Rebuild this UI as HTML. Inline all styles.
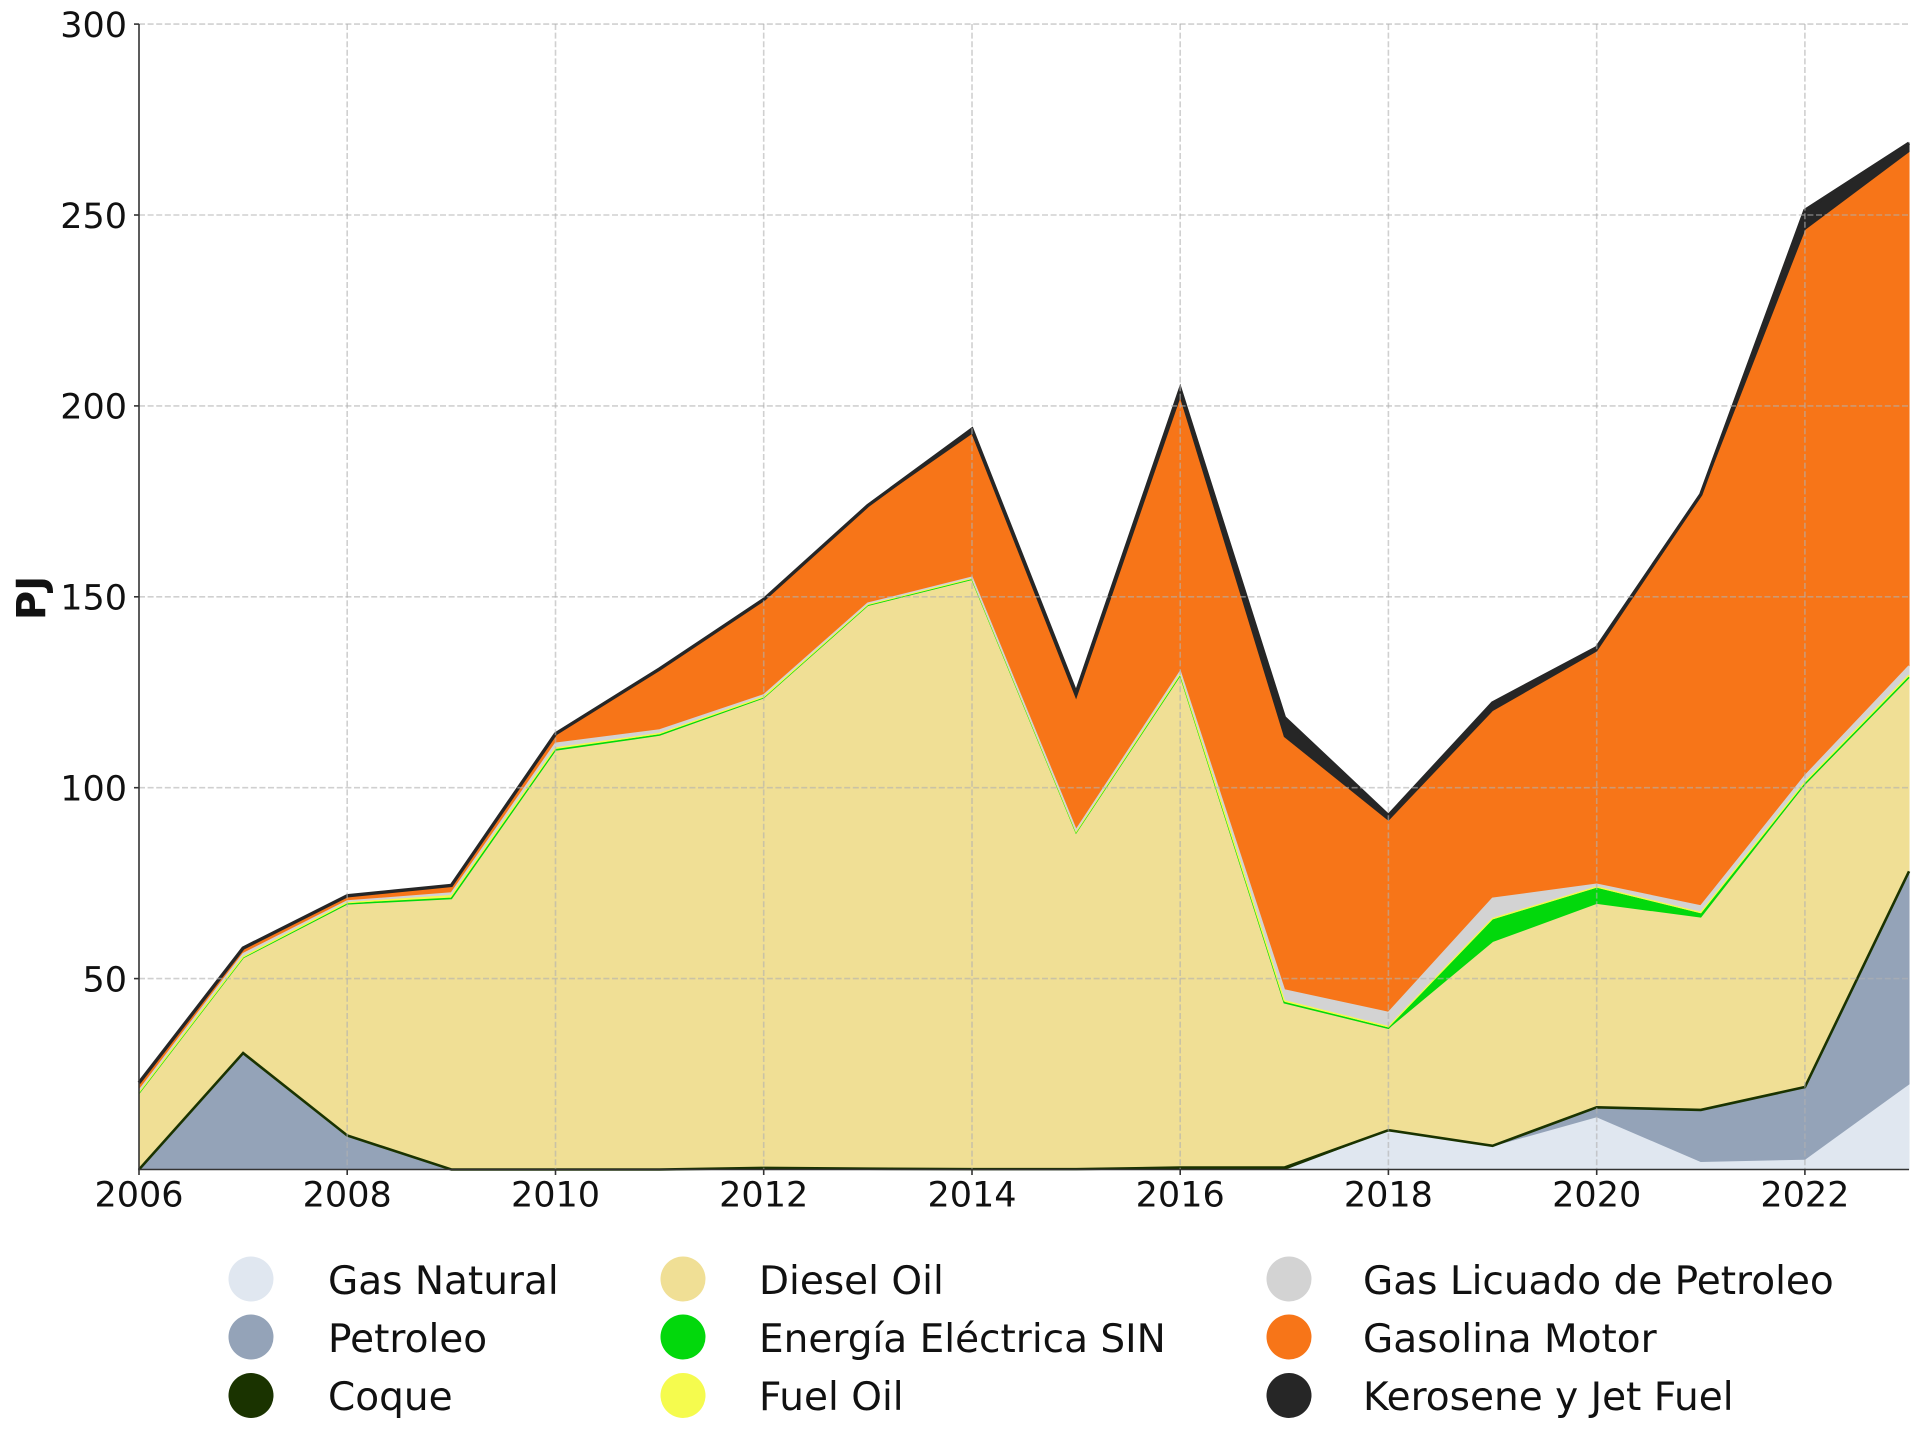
<!DOCTYPE html>
<html>
<head>
<meta charset="utf-8">
<style>
html,body{margin:0;padding:0;background:#fff;}
svg{display:block;}
text{font-family:"DejaVu Sans","Liberation Sans",sans-serif;fill:#111;}
</style>
</head>
<body>
<svg width="1920" height="1445" viewBox="0 0 1920 1445" xmlns="http://www.w3.org/2000/svg">
<rect x="0" y="0" width="1920" height="1445" fill="#fff"/>

<g transform="translate(139 1169.5) scale(104.12 -3.818)" stroke-linejoin="miter">
  <!-- Gas Natural -->
  <polygon fill="#e0e7f0" stroke="#e0e7f0" stroke-width="1" vector-effect="non-scaling-stroke"
    points="0,0 11,0 12,10.3 13,6.2 14,13.8 15,2.1 16,2.7 17,22.4 17,0 0,0"/>
  <!-- Petroleo -->
  <polygon fill="#94a3b8" stroke="#94a3b8" stroke-width="1" vector-effect="non-scaling-stroke"
    points="0,0 1,30.5 2,8.9 3,0 11,0 12,10.3 13,6.2 14,16.3 15,15.6 16,21.6 17,78.1 17,22.4 16,2.7 15,2.1 14,13.8 13,6.2 12,10.3 11,0 0,0"/>
  <!-- Coque -->
  <polygon fill="#1a3300" stroke="#1a3300" stroke-width="1" vector-effect="non-scaling-stroke"
    points="0,0 1,30.5 2,8.9 3,0 4,0 5,0 6,0.4 7,0.2 8,0.1 9,0.1 10,0.5 11,0.5 12,10.3 13,6.2 14,16.3 15,15.6 16,21.6 17,78.1 17,78.1 16,21.6 15,15.6 14,16.3 13,6.2 12,10.3 11,0 3,0 2,8.9 1,30.5 0,0"/>
  <!-- Diesel Oil -->
  <polygon fill="#f0df95" stroke="#f0df95" stroke-width="1" vector-effect="non-scaling-stroke"
    points="0,20 1,55.5 2,69.6 3,71 4,109.9 5,113.8 6,123.6 7,147.8 8,154.6 9,88.3 10,129.5 11,43.7 12,37 13,59.7 14,69.7 15,66.1 16,101 17,128.9 17,78.1 16,21.6 15,15.6 14,16.3 13,6.2 12,10.3 11,0.5 10,0.5 9,0.1 8,0.1 7,0.2 6,0.4 5,0 4,0 3,0 2,8.9 1,30.5 0,0"/>
  <!-- Energia Electrica -->
  <polygon fill="#02d80c" stroke="#02d80c" stroke-width="1" vector-effect="non-scaling-stroke"
    points="0,20 1,55.5 2,69.6 3,71 4,109.9 5,113.8 6,123.6 7,147.8 8,154.6 9,88.3 10,129.5 11,43.7 12,37 13,65.3 14,73.6 15,66.9 16,101 17,128.9 17,128.9 16,101 15,66.1 14,69.7 13,59.7 12,37 11,43.7 10,129.5 9,88.3 8,154.6 7,147.8 6,123.6 5,113.8 4,109.9 3,71 2,69.6 1,55.5 0,20"/>
  <!-- Fuel Oil -->
  <polygon fill="#f5fb4e" stroke="#f5fb4e" stroke-width="1" vector-effect="non-scaling-stroke"
    points="0,20.2 1,55.7 2,69.9 3,71.7 4,110.4 5,114.2 6,123.8 7,148 8,154.8 9,88.5 10,129.8 11,44.2 12,37.4 13,65.7 14,74 15,67.3 16,101.5 17,129.5 17,128.9 16,101 15,66.9 14,73.6 13,65.3 12,37 11,43.7 10,129.5 9,88.3 8,154.6 7,147.8 6,123.6 5,113.8 4,109.9 3,71 2,69.6 1,55.5 0,20"/>
  <!-- GLP -->
  <polygon fill="#d3d3d3" stroke="#d3d3d3" stroke-width="1" vector-effect="non-scaling-stroke"
    points="0,20.7 1,56.5 2,70.3 3,72.4 4,111.6 5,115.1 6,124.3 7,148.3 8,155.1 9,88.9 10,130.4 11,47 12,41.1 13,71 14,74.7 15,69 16,103.1 17,131.9 17,129.5 16,101.5 15,67.3 14,74 13,65.7 12,37.4 11,44.2 10,129.8 9,88.5 8,154.8 7,148 6,123.8 5,114.2 4,110.4 3,71.7 2,69.9 1,55.7 0,20.2"/>
  <!-- Gasolina Motor -->
  <polygon fill="#f77518" stroke="#f77518" stroke-width="1" vector-effect="non-scaling-stroke"
    points="0,22.5 1,57.9 2,71.6 3,74.3 4,114 5,131 6,149.2 7,173.8 8,192.8 9,123.5 10,202.4 11,113.4 12,91.5 13,120.2 14,135.8 15,176.4 16,246.2 17,266.6 17,131.9 16,103.1 15,69 14,74.7 13,71 12,41.1 11,47 10,130.4 9,88.9 8,155.1 7,148.3 6,124.3 5,115.1 4,111.6 3,72.4 2,70.3 1,56.5 0,20.7"/>
  <!-- Kerosene -->
  <polygon fill="#262626" stroke="#262626" stroke-width="1" vector-effect="non-scaling-stroke"
    points="0,22.7 1,58 2,71.7 3,74.4 4,114.1 5,131.1 6,149.3 7,173.9 8,193.9 9,124.8 10,204.4 11,118.4 12,92.7 13,122.2 14,136.7 15,176.8 16,251.2 17,268.8 17,266.6 16,246.2 15,176.4 14,135.8 13,120.2 12,91.5 11,113.4 10,202.4 9,123.5 8,192.8 7,173.8 6,149.2 5,131 4,114 3,74.3 2,71.6 1,57.9 0,22.5"/>

  <!-- edge lines -->
  <polyline fill="none" stroke="#1a3300" stroke-width="2.6" vector-effect="non-scaling-stroke"
    points="0,0 1,30.5 2,8.9 3,0 4,0 5,0 6,0.4 7,0.2 8,0.1 9,0.1 10,0.5 11,0.5 12,10.3 13,6.2 14,16.3 15,15.6 16,21.6 17,78.1"/>
  <polyline fill="none" stroke="#02d80c" stroke-width="1.6" vector-effect="non-scaling-stroke"
    points="0,20 1,55.5 2,69.6 3,71 4,109.9 5,113.8 6,123.6 7,147.8 8,154.6 9,88.3 10,129.5 11,43.7 12,37 13,65.3 14,73.6 15,66.9 16,101 17,128.9"/>
  <polyline fill="none" stroke="#f5fb4e" stroke-width="1.4" vector-effect="non-scaling-stroke"
    points="0,20.2 1,55.7 2,69.9 3,71.7 4,110.4 5,114.2 6,123.8 7,148 8,154.8 9,88.5 10,129.8 11,44.2 12,37.4 13,65.7 14,74 15,67.3 16,101.5 17,129.5"/>
  <polyline fill="none" stroke="#d3d3d3" stroke-width="1.6" vector-effect="non-scaling-stroke"
    points="0,20.7 1,56.5 2,70.3 3,72.4 4,111.6 5,115.1 6,124.3 7,148.3 8,155.1 9,88.9 10,130.4 11,47 12,41.1 13,71 14,74.7 15,69 16,103.1 17,131.9"/>
  <polyline fill="none" stroke="#262626" stroke-width="3.4" vector-effect="non-scaling-stroke"
    points="0,22.7 1,58 2,71.7 3,74.4 4,114.1 5,131.1 6,149.3 7,173.9 8,193.9 9,124.8 10,204.4 11,118.4 12,92.7 13,122.2 14,136.7 15,176.8 16,251.2 17,268.8"/>
</g>

<!-- grid -->
<g stroke="#b0b0b0" stroke-opacity="0.6" stroke-width="1.6" stroke-dasharray="6 2.6" fill="none">
  <line x1="139" y1="978.6" x2="1909" y2="978.6"/>
  <line x1="139" y1="787.7" x2="1909" y2="787.7"/>
  <line x1="139" y1="596.8" x2="1909" y2="596.8"/>
  <line x1="139" y1="405.9" x2="1909" y2="405.9"/>
  <line x1="139" y1="215.0" x2="1909" y2="215.0"/>
  <line x1="139" y1="24.1" x2="1909" y2="24.1"/>
  <line x1="347.2" y1="24" x2="347.2" y2="1169.5"/>
  <line x1="555.5" y1="24" x2="555.5" y2="1169.5"/>
  <line x1="763.7" y1="24" x2="763.7" y2="1169.5"/>
  <line x1="972.0" y1="24" x2="972.0" y2="1169.5"/>
  <line x1="1180.2" y1="24" x2="1180.2" y2="1169.5"/>
  <line x1="1388.4" y1="24" x2="1388.4" y2="1169.5"/>
  <line x1="1596.7" y1="24" x2="1596.7" y2="1169.5"/>
  <line x1="1804.9" y1="24" x2="1804.9" y2="1169.5"/>
</g>

<!-- spines and ticks -->
<g stroke="#333" stroke-width="1.6" fill="none">
  <line x1="139" y1="24" x2="139" y2="1170"/>
  <line x1="138.2" y1="1169.5" x2="1909" y2="1169.5"/>
  <line x1="134" y1="978.6" x2="139" y2="978.6"/>
  <line x1="134" y1="787.7" x2="139" y2="787.7"/>
  <line x1="134" y1="596.8" x2="139" y2="596.8"/>
  <line x1="134" y1="405.9" x2="139" y2="405.9"/>
  <line x1="134" y1="215.0" x2="139" y2="215.0"/>
  <line x1="134" y1="24.1" x2="139" y2="24.1"/>
  <line x1="139" y1="1169.5" x2="139" y2="1175"/>
  <line x1="347.2" y1="1169.5" x2="347.2" y2="1175"/>
  <line x1="555.5" y1="1169.5" x2="555.5" y2="1175"/>
  <line x1="763.7" y1="1169.5" x2="763.7" y2="1175"/>
  <line x1="972.0" y1="1169.5" x2="972.0" y2="1175"/>
  <line x1="1180.2" y1="1169.5" x2="1180.2" y2="1175"/>
  <line x1="1388.4" y1="1169.5" x2="1388.4" y2="1175"/>
  <line x1="1596.7" y1="1169.5" x2="1596.7" y2="1175"/>
  <line x1="1804.9" y1="1169.5" x2="1804.9" y2="1175"/>
</g>

<!-- y tick labels -->
<g font-size="35" text-anchor="end">
  <text x="127" y="991.4">50</text>
  <text x="127" y="800.5">100</text>
  <text x="127" y="609.6">150</text>
  <text x="127" y="418.7">200</text>
  <text x="127" y="227.8">250</text>
  <text x="127" y="37">300</text>
</g>

<!-- x tick labels -->
<g font-size="35" text-anchor="middle">
  <text x="139" y="1206.5">2006</text>
  <text x="347.2" y="1206.5">2008</text>
  <text x="555.5" y="1206.5">2010</text>
  <text x="763.7" y="1206.5">2012</text>
  <text x="972.0" y="1206.5">2014</text>
  <text x="1180.2" y="1206.5">2016</text>
  <text x="1388.4" y="1206.5">2018</text>
  <text x="1596.7" y="1206.5">2020</text>
  <text x="1804.9" y="1206.5">2022</text>
</g>

<!-- y axis label -->
<text x="0" y="0" font-size="40" font-weight="bold" text-anchor="middle" transform="translate(45 598) rotate(-90)">PJ</text>

<!-- legend -->
<g>
  <circle cx="251" cy="1279" r="22.5" fill="#e0e7f0"/>
  <circle cx="251" cy="1337" r="22.5" fill="#94a3b8"/>
  <circle cx="251" cy="1395.5" r="22.5" fill="#1a3300"/>
  <circle cx="683" cy="1279" r="22.5" fill="#f0df95"/>
  <circle cx="683" cy="1337" r="22.5" fill="#02d80c"/>
  <circle cx="683" cy="1395.5" r="22.5" fill="#f5fb4e"/>
  <circle cx="1289" cy="1279" r="22.5" fill="#d3d3d3"/>
  <circle cx="1289" cy="1337" r="22.5" fill="#f77518"/>
  <circle cx="1289" cy="1395.5" r="22.5" fill="#262626"/>
</g>
<g font-size="39">
  <text x="328" y="1294">Gas Natural</text>
  <text x="328" y="1352">Petroleo</text>
  <text x="328" y="1410">Coque</text>
  <text x="759" y="1294">Diesel Oil</text>
  <text x="759" y="1352">Energía Eléctrica SIN</text>
  <text x="759" y="1410">Fuel Oil</text>
  <text x="1363" y="1294">Gas Licuado de Petroleo</text>
  <text x="1363" y="1352">Gasolina Motor</text>
  <text x="1363" y="1410">Kerosene y Jet Fuel</text>
</g>
</svg>
</body>
</html>
